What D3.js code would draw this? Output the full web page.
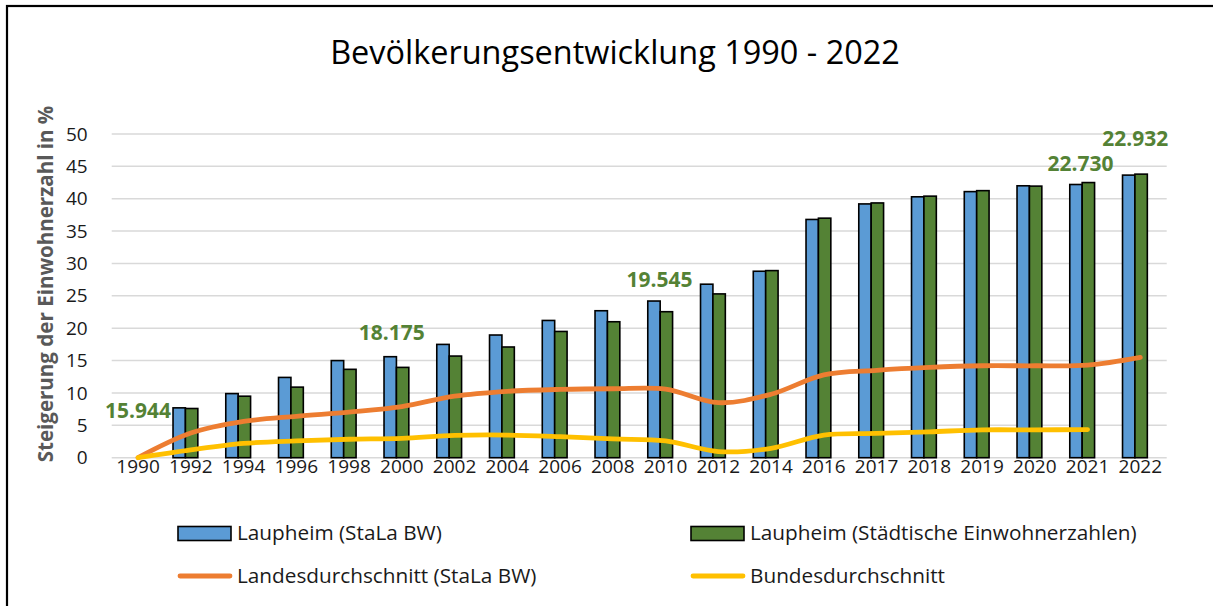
<!DOCTYPE html>
<html>
<head>
<meta charset="utf-8">
<script src="https://cdnjs.cloudflare.com/ajax/libs/d3/7.8.5/d3.min.js"></script>
<style>
  body { margin: 0; background: #fff; }
  svg { display: block; font-family: 'Open Sans', sans-serif; }
</style>
</head>
<body>
<svg></svg>
<script>
// data
let years = ['1990', '1992', '1994', '1996', '1998', '2000', '2002', '2004', '2006', '2008',
             '2010', '2012', '2014', '2016', '2017', '2018', '2019', '2020', '2021', '2022']
let stalaValues = [0, 7.7, 9.9, 12.4, 15.0, 15.6, 17.5, 18.95, 21.2, 22.7,
                   24.2, 26.8, 28.8, 36.8, 39.2, 40.3, 41.1, 42.0, 42.2, 43.65]
let stadtValues = [0, 7.6, 9.5, 10.9, 13.65, 13.95, 15.7, 17.1, 19.5, 21.0,
                   22.55, 25.3, 28.9, 37.0, 39.35, 40.4, 41.25, 41.95, 42.5, 43.8]
let landValues = [0, 3.8, 5.6, 6.4, 7.05, 7.9, 9.5, 10.25, 10.55, 10.65,
                  10.6, 8.5, 9.8, 12.8, 13.5, 13.95, 14.2, 14.2, 14.3, 15.5]
let bundValues = [0, 1.2, 2.2, 2.6, 2.85, 3.0, 3.45, 3.5, 3.25, 2.9,
                  2.6, 0.95, 1.45, 3.5, 3.75, 4.0, 4.3, 4.3, 4.35, null]
let yTicks = [0, 5, 10, 15, 20, 25, 30, 35, 40, 45, 50]
let annoYears = ['1990', '2000', '2010', '2021', '2022']
let annoTexts = ['15.944', '18.175', '19.545', '22.730', '22.932']
let annoLevels = [6.1, 18.2, 26.4, 44.3, 48.1]
let seriesNames = ['Laupheim (StaLa BW)', 'Laupheim (Städtische Einwohnerzahlen)',
                   'Landesdurchschnitt (StaLa BW)', 'Bundesdurchschnitt']

let width = 1213
let height = 606
let plotLeft = 111.7
let plotRight = 1166.7
let plotTop = 134
let plotBottom = 457.7

let blue = '#5B9BD5'
let green = '#548235'
let orange = '#ED7D31'
let yellow = '#FFC000'

let svg = d3.select('svg').attr('width', width).attr('height', height)

let xScale = d3.scaleBand().domain(years).range([plotLeft, plotRight])
let yScale = d3.scaleLinear().domain([0, 50]).range([plotBottom, plotTop])
let xSub = d3.scaleBand().domain(['stala', 'stadt']).range([-17.8, 7])
let cx = (yr) => xScale(yr) + xScale.bandwidth() / 2

// scale a text's font size so it spans the target width
let fitText = (sel, target) => {
    let size = parseFloat(sel.style('font-size'))
    let w = sel.node().getComputedTextLength()
    sel.style('font-size', (size * target / w) + 'px')
}

// frame
svg.append('rect')
    .attr('x', 7).attr('y', 6)
    .attr('width', 1240).attr('height', 640)
    .attr('fill', 'none').attr('stroke', '#000').attr('stroke-width', 2.2)

// title
let title = svg.append('text')
    .attr('x', 615).attr('y', 64)
    .attr('text-anchor', 'middle')
    .style('font-size', '30px')
    .style('fill', '#000')
    .text('Bevölkerungsentwicklung 1990 - 2022')
fitText(title, 570)

// gridlines
svg.append('g')
    .selectAll('line')
    .data(yTicks)
    .enter()
    .append('line')
    .attr('x1', plotLeft).attr('x2', plotRight)
    .attr('y1', (d) => yScale(d)).attr('y2', (d) => yScale(d))
    .attr('stroke', '#D9D9D9')
    .attr('stroke-width', 1.5)

// axes
let yAxis = d3.axisLeft(yScale).tickValues(yTicks).tickSize(0).tickPadding(24)
let gy = svg.append('g')
    .attr('transform', 'translate(' + plotLeft + ', 0)')
    .call(yAxis)
gy.select('.domain').remove()
gy.selectAll('text')
    .style('font-family', "'Open Sans', sans-serif")
    .style('font-size', '19px')
    .style('fill', '#1a1a1a')

let xAxis = d3.axisBottom(xScale).tickSize(0).tickPadding(2)
let gx = svg.append('g')
    .attr('transform', 'translate(0, ' + plotBottom + ')')
    .call(xAxis)
gx.select('.domain').remove()
gx.selectAll('text')
    .style('font-family', "'Open Sans', sans-serif")
    .style('font-size', '19px')
    .style('fill', '#1a1a1a')

// y axis title
let yTitle = svg.append('text')
    .attr('transform', 'translate(53, 284) rotate(-90)')
    .attr('text-anchor', 'middle')
    .style('font-size', '19px')
    .style('font-weight', 700)
    .style('fill', '#595959')
    .text('Steigerung der Einwohnerzahl in %')
fitText(yTitle, 357)

// bars
let drawBars = (values, key, color) => {
    svg.append('g')
        .selectAll('rect')
        .data(values.map((v, i) => ({ year: years[i], value: v })).filter((d) => d.value > 0))
        .enter()
        .append('rect')
        .attr('x', (d) => cx(d.year) + xSub(key))
        .attr('y', (d) => yScale(d.value))
        .attr('width', xSub.bandwidth())
        .attr('height', (d) => plotBottom - yScale(d.value))
        .attr('fill', color)
        .attr('stroke', '#000')
        .attr('stroke-width', 1.6)
}
drawBars(stalaValues, 'stala', blue)
drawBars(stadtValues, 'stadt', green)

// lines
let lineGen = d3.line()
    .defined((d) => d.value != null)
    .x((d) => cx(d.year))
    .y((d) => yScale(d.value))
    .curve(d3.curveCatmullRom.alpha(0.5))

let drawLine = (values, color) => {
    svg.append('path')
        .datum(values.map((v, i) => ({ year: years[i], value: v })))
        .attr('d', lineGen)
        .attr('fill', 'none')
        .attr('stroke', color)
        .attr('stroke-width', 4.8)
        .attr('stroke-linecap', 'round')
        .attr('stroke-linejoin', 'round')
}
drawLine(landValues, orange)
drawLine(bundValues, yellow)

// annotations
let annoShift = [0, -10, -6, -7, -5]
let annos = svg.append('g')
    .selectAll('text')
    .data(annoTexts)
    .enter()
    .append('text')
    .attr('x', (d, i) => cx(annoYears[i]) + annoShift[i])
    .attr('y', (d, i) => yScale(annoLevels[i]))
    .attr('text-anchor', 'middle')
    .style('font-size', '20px')
    .style('font-weight', 700)
    .style('fill', green)
    .text((d) => d)
let annoW = annos.node().getComputedTextLength()
annos.style('font-size', (20 * 66 / annoW) + 'px')

// legend
let legendRows = [
    { name: seriesNames[0], color: blue, kind: 'rect', x: 178, y: 533 },
    { name: seriesNames[1], color: green, kind: 'rect', x: 691, y: 533 },
    { name: seriesNames[2], color: orange, kind: 'line', x: 178, y: 576 },
    { name: seriesNames[3], color: yellow, kind: 'line', x: 691, y: 576 }
]
let legend = svg.append('g')
legendRows.forEach((d) => {
    if (d.kind == 'rect') {
        legend.append('rect')
            .attr('x', d.x).attr('y', d.y - 6.5)
            .attr('width', 53).attr('height', 14)
            .attr('fill', d.color)
            .attr('stroke', '#000').attr('stroke-width', 1.6)
    } else {
        legend.append('line')
            .attr('x1', d.x + 2).attr('x2', d.x + 52)
            .attr('y1', d.y).attr('y2', d.y)
            .attr('stroke', d.color).attr('stroke-width', 4.8)
            .attr('stroke-linecap', 'round')
    }
})
let legendTexts = legend.selectAll('text.lg')
    .data(legendRows)
    .enter()
    .append('text')
    .attr('class', 'lg')
    .attr('x', (d) => d.x + 59)
    .attr('y', (d) => d.y)
    .attr('dy', '0.35em')
    .style('font-size', '19px')
    .style('fill', '#1a1a1a')
    .text((d) => d.name)
let lgW = legendTexts.node().getComputedTextLength()
legendTexts.style('font-size', (19 * 205 / lgW) + 'px')
</script>
</body>
</html>
